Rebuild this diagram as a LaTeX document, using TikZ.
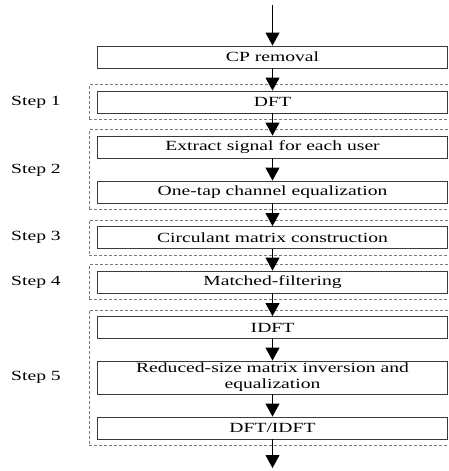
\documentclass[tikz,border=0pt]{standalone}
\usepackage{fontspec}
\usepackage{tikz}
\usetikzlibrary{arrows.meta,fit,backgrounds}
\newfontfamily\diagfont[FakeStretch=1.4]{Liberation Serif}
\definecolor{boxline}{HTML}{3A3A3A}
\definecolor{frameline}{HTML}{7A7A7A}

\begin{document}
\begin{tikzpicture}[x=1pt,y=-1pt,
  font=\diagfont\fontsize{14}{16}\selectfont,
  procbox/.style={draw=boxline,line width=0.9pt,fill=white,minimum width=350pt,minimum height=22pt,inner sep=1pt,align=center},
  tallbox/.style={procbox,minimum height=33pt},
  stepframe/.style={draw=frameline,line width=0.8pt,dash pattern=on 3pt off 2pt,inner xsep=8pt,inner ysep=6pt},
  steplabel/.style={inner sep=0pt},
  connector/.style={-{Triangle[length=13pt,width=14pt]},draw=black,line width=0.9pt}
]
\useasboundingbox (0,0) rectangle (448,471);
\clip (0,0) rectangle (448,471);

% Processing chain
\node[procbox] (cp) at (272.5,57) {CP removal};
\node[procbox] (dft) at (272.5,102) {DFT};
\node[procbox] (extract) at (272.5,147) {Extract signal for each user};
\node[procbox] (onetap) at (272.5,192) {One-tap channel equalization};
\node[procbox] (circ) at (272.5,237.5) {Circulant matrix construction};
\node[procbox] (mf) at (272.5,282) {Matched-filtering};
\node[procbox] (idft) at (272.5,327.5) {IDFT};
\node[tallbox] (rsmi) at (272.5,377.5) {Reduced-size matrix inversion and\\equalization};
\node[procbox] (dftidft) at (272.5,428) {DFT/IDFT};

% Step frames, drawn behind the boxes; they run off the right edge
\begin{scope}[on background layer]
\node[stepframe,fit={(dft) ([xshift=30pt]dft.east)}] (gstep1) {};
\node[stepframe,fit={(extract)(onetap) ([xshift=30pt]onetap.east)}] (gstep2) {};
\node[stepframe,fit={(circ) ([xshift=30pt]circ.east)}] (gstep3) {};
\node[stepframe,fit={(mf) ([xshift=30pt]mf.east)}] (gstep4) {};
\node[stepframe,fit={(idft)(rsmi)(dftidft) ([xshift=30pt]rsmi.east)}] (gstep5) {};
\end{scope}

% Step labels
\node[steplabel] (lstep1) at (36,102) {Step 1};
\node[steplabel] (lstep2) at (36,170) {Step 2};
\node[steplabel] (lstep3) at (36,237) {Step 3};
\node[steplabel] (lstep4) at (36,282) {Step 4};
\node[steplabel] (lstep5) at (36,377) {Step 5};

% Signal flow
\coordinate (in) at (272.5,5);
\coordinate (out) at (272.5,468);
\draw[connector] (in) -- (cp.north);
\draw[connector] (cp.south) -- (dft.north);
\draw[connector] (dft.south) -- (extract.north);
\draw[connector] (extract.south) -- (onetap.north);
\draw[connector] (onetap.south) -- (circ.north);
\draw[connector] (circ.south) -- (mf.north);
\draw[connector] (mf.south) -- (idft.north);
\draw[connector] (idft.south) -- (rsmi.north);
\draw[connector] (rsmi.south) -- (dftidft.north);
\draw[connector] (dftidft.south) -- (out);

\end{tikzpicture}
\end{document}
